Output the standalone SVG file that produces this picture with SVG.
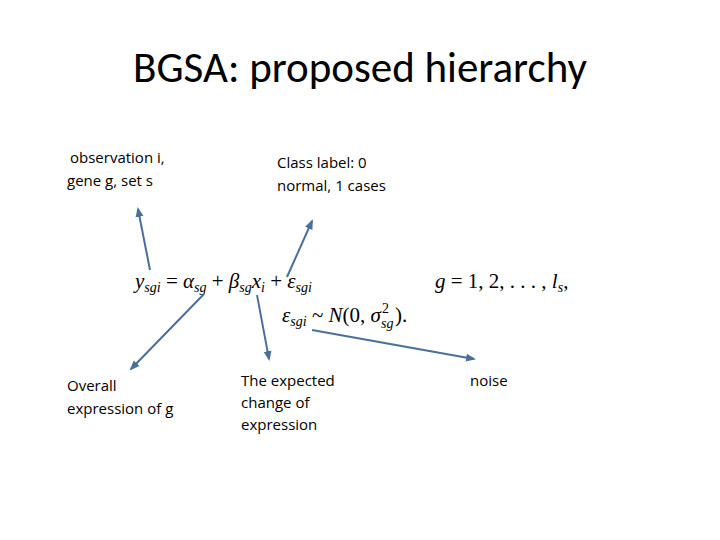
<svg xmlns="http://www.w3.org/2000/svg" width="720" height="540" viewBox="0 0 720 540">
<defs>
<marker id="ah" viewBox="0 0 10 10" refX="8" refY="5" markerWidth="5" markerHeight="5" orient="auto"><path d="M0,1 L10,5 L0,9 z" fill="#4a6f9a"/></marker>
<style>
.t{font-family:"Open Sans","Liberation Sans",sans-serif;font-size:15px;fill:#000}
.m{font-family:"Liberation Serif",serif;font-size:21px;fill:#000}
.s{font-size:14px}
.c line{stroke:#4a6f9a;stroke-width:2;marker-end:url(#ah)}
</style>
</defs>
<rect width="720" height="540" fill="#fff"/>
<text x="360" y="82" text-anchor="middle" font-family="Carlito,'Open Sans','Liberation Sans',sans-serif" font-size="43" fill="#000">BGSA: proposed hierarchy</text>
<g id="n1"><text class="t" x="70" y="163"> observation i,</text><text class="t" x="67" y="186">gene g, set s</text></g>
<g id="n2"><text class="t" x="277" y="168">Class label: 0</text><text class="t" x="277" y="191">normal, 1 cases</text></g>
<g id="n3"><text class="t" x="67" y="391">Overall</text><text class="t" x="67" y="414">expression of g</text></g>
<g id="n4"><text class="t" x="241" y="386">The expected</text><text class="t" x="241" y="408">change of</text><text class="t" x="241" y="430">expression</text></g>
<g id="n5"><text class="t" x="470" y="386">noise</text></g>
<g id="formula">
<text class="m" x="135" y="288" font-style="italic">y<tspan class="s" dy="4">sgi</tspan><tspan dy="-4" font-style="normal"> = </tspan>α<tspan class="s" dy="4">sg</tspan><tspan dy="-4" font-style="normal"> + </tspan>β<tspan class="s" dy="4">sg</tspan><tspan dy="-4">x</tspan><tspan class="s" dy="4">i</tspan><tspan dy="-4" font-style="normal"> + </tspan>ε<tspan class="s" dy="4">sgi</tspan></text>
<text class="m" x="435" y="288"><tspan font-style="italic">g</tspan> = 1, 2, . . . , <tspan font-style="italic">l</tspan><tspan class="s" dy="4" font-style="italic">s</tspan><tspan dy="-4">,</tspan></text>
<text class="m" x="282" y="322"><tspan font-style="italic">ε</tspan><tspan class="s" dy="4" font-style="italic">sgi</tspan><tspan dy="-4"> ~ </tspan><tspan font-style="italic">N</tspan>(0, <tspan font-style="italic">σ</tspan></text>
<text class="m s" x="382" y="313">2</text>
<text class="m s" x="381" y="328" font-style="italic">sg</text>
<text class="m" x="395" y="322">).</text>
</g>
<g class="c" id="connectors">
<line x1="150" y1="270" x2="138" y2="209"/>
<line x1="287" y1="277" x2="312" y2="221"/>
<line x1="204" y1="294" x2="131" y2="369"/>
<line x1="257" y1="295" x2="269" y2="359"/>
<line x1="312" y1="330" x2="474" y2="359"/>
</g>
</svg>
